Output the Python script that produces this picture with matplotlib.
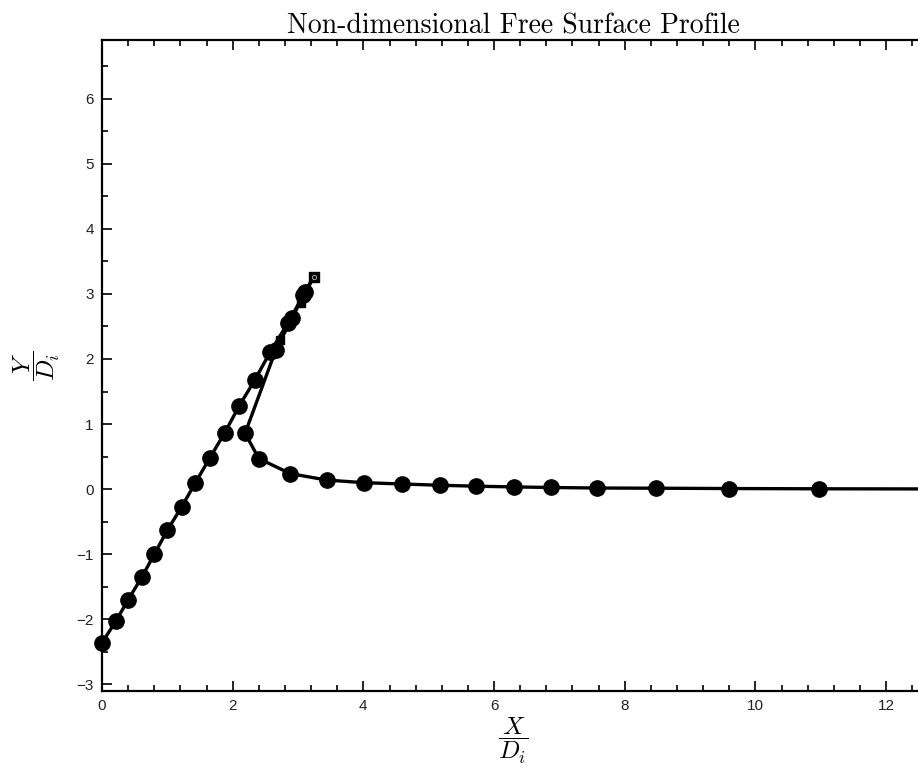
import numpy as np
import matplotlib
matplotlib.use('Agg')
import matplotlib.pyplot as plt
from matplotlib.ticker import MultipleLocator

plt.rcParams['mathtext.fontset'] = 'cm'

## free surface data
left_x = [0.00, 0.21, 0.40, 0.61, 0.80, 1.00, 1.22, 1.43, 1.65, 1.88, 2.10, 2.34, 2.57, 2.85, 3.08, 3.25]
left_y = [-2.36, -2.03, -1.70, -1.35, -1.00, -0.63, -0.27, 0.10, 0.48, 0.87, 1.28, 1.68, 2.10, 2.56, 2.98, 3.26]

right_x = [3.20, 3.11, 2.91, 2.66, 2.19, 2.40, 2.88, 3.44, 4.01, 4.59, 5.18, 5.73, 6.30, 6.87, 7.58, 8.48, 9.59, 10.98, 12.70]
right_y = [3.20, 3.03, 2.63, 2.14, 0.86, 0.47, 0.24, 0.14, 0.10, 0.08, 0.06, 0.046, 0.035, 0.026, 0.018, 0.015, 0.010, 0.006, 0.004]

mid_x = [2.73, 3.05]
mid_y = [2.29, 2.86]

tip_x = [3.25]
tip_y = [3.26]

fig = plt.figure(figsize=(9.18, 7.74), dpi=100)
ax = fig.add_axes([102/918, 83/774, 822/918, 651/774])

ax.plot(left_x[:-1], left_y[:-1], 'k-', lw=2.4, marker='o', ms=11, zorder=3, clip_on=False)
ax.plot(left_x[-2:], left_y[-2:], 'k-', lw=2.4, zorder=3)
ax.plot(right_x, right_y, 'k-', lw=2.4, marker='o', ms=11,
        markevery=list(range(1, len(right_x) - 1)), zorder=3)
ax.plot(mid_x, mid_y, ls='none', marker='s', ms=6, color='k', zorder=4)
ax.plot(tip_x, tip_y, ls='none', marker='s', ms=7, color='k', zorder=5)
ax.plot(tip_x, tip_y, ls='none', marker='o', ms=3, mfc='none', mec='0.6', mew=0.8, zorder=6)

ax.set_xlim(0, 12.58)
ax.set_ylim(-3.1, 6.9)

ax.xaxis.set_major_locator(MultipleLocator(2))
ax.xaxis.set_minor_locator(MultipleLocator(0.4))
ax.yaxis.set_major_locator(MultipleLocator(1))
ax.yaxis.set_minor_locator(MultipleLocator(0.5))
ax.tick_params(which='both', direction='in', top=True, right=False, width=1.2)
ax.tick_params(which='major', length=7, labelsize=11, pad=6, labelcolor='#222222')
ax.tick_params(which='minor', length=4)
for lab in ax.get_xticklabels() + ax.get_yticklabels():
    lab.set_fontfamily('Liberation Sans')
for sp in ax.spines.values():
    sp.set_linewidth(1.6)
ax.spines['right'].set_visible(False)

ax.set_title('Non-dimensional Free Surface Profile', fontfamily='cmr10', fontsize=20, pad=5)
ax.set_xlabel(r'$\dfrac{X}{D_i}$', fontsize=18, labelpad=2)
ax.set_ylabel(r'$\dfrac{Y}{D_i}$', fontsize=18, labelpad=10)

fig.savefig('out.png', dpi=100)
